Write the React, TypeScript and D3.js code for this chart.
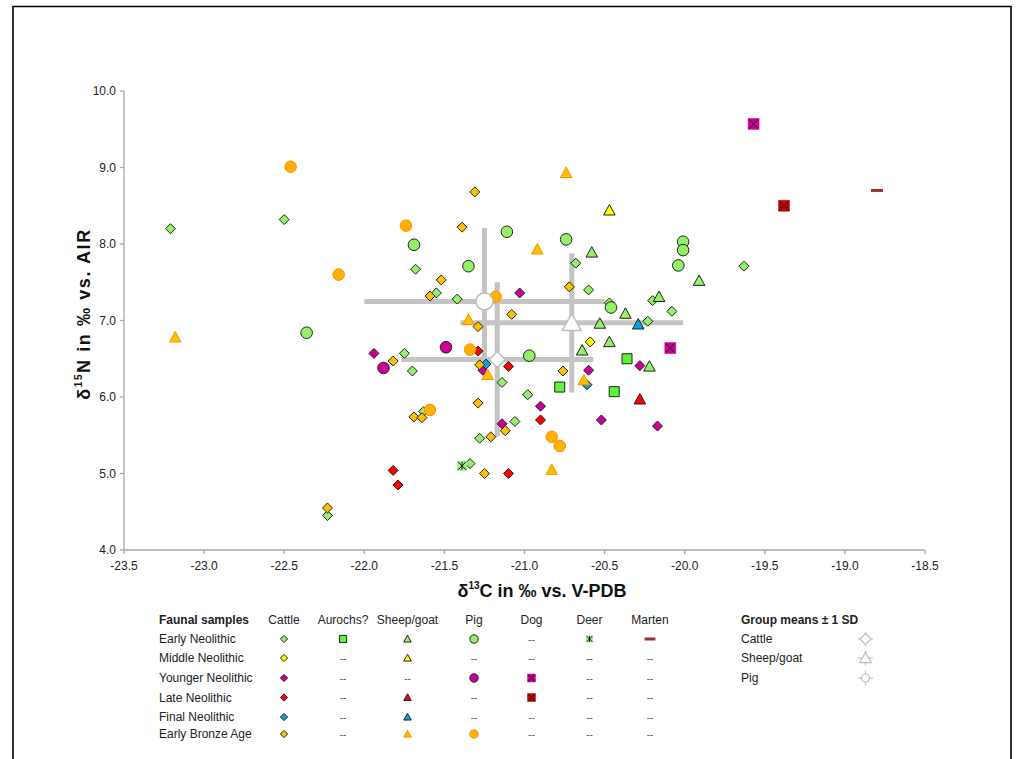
import React from "react";
import * as d3 from "d3";

type P = [number, number];

// ---- data (δ13C, δ15N) ----
const enCattle: P[] = [
  [-23.21, 8.2], [-22.5, 8.32], [-21.68, 7.67], [-21.55, 7.36], [-21.42, 7.28], [-20.68, 7.75],
  [-20.6, 7.4], [-20.47, 7.23], [-20.2, 7.26], [-20.08, 7.12], [-20.23, 6.99], [-19.63, 7.71],
  [-21.75, 6.57], [-21.7, 6.34], [-21.14, 6.19], [-20.98, 6.03], [-21.63, 5.81], [-21.06, 5.68],
  [-21.28, 5.46], [-21.34, 5.13], [-22.23, 4.45],
];
const enAurochs: P[] = [[-20.36, 6.5], [-20.78, 6.13], [-20.44, 6.07]];
const enSheep: P[] = [
  [-20.58, 7.89], [-20.37, 7.09], [-20.53, 6.96], [-20.16, 7.31], [-20.47, 6.72], [-20.64, 6.61],
  [-20.22, 6.4], [-19.91, 7.52],
];
const enPig: P[] = [
  [-21.69, 7.99], [-21.11, 8.16], [-20.74, 8.06], [-21.35, 7.71], [-20.46, 7.17], [-20.97, 6.54],
  [-22.36, 6.84], [-20.01, 8.03], [-20.01, 7.92], [-20.04, 7.72],
];
const enDeer: P[] = [[-21.39, 5.1]];
const enMarten: P[] = [[-18.8, 8.7]];
const mnCattle: P[] = [[-20.59, 6.72]];
const mnSheep: P[] = [[-20.47, 8.44]];
const ynCattle: P[] = [
  [-21.03, 7.36], [-20.28, 6.41], [-21.94, 6.57], [-21.26, 6.35], [-20.6, 6.35], [-20.9, 5.88],
  [-20.52, 5.7], [-20.17, 5.62], [-21.14, 5.65],
];
const ynPig: P[] = [[-21.49, 6.65], [-21.88, 6.38]];
const ynDog: P[] = [[-19.57, 9.57], [-20.09, 6.64]];
const lnCattle: P[] = [[-21.29, 6.6], [-21.1, 6.4], [-20.9, 5.7], [-21.1, 5.0], [-21.82, 5.04], [-21.79, 4.85]];
const lnSheep: P[] = [[-20.28, 5.97]];
const lnDog: P[] = [[-19.38, 8.5]];
const fnCattle: P[] = [[-21.24, 6.43], [-20.61, 6.16]];
const fnSheep: P[] = [[-20.29, 6.95]];
const ebaCattle: P[] = [
  [-21.31, 8.68], [-21.39, 8.22], [-21.52, 7.53], [-20.72, 7.44], [-21.59, 7.32], [-21.08, 7.08],
  [-21.29, 6.92], [-21.82, 6.47], [-21.28, 6.42], [-20.76, 6.34], [-21.29, 5.92], [-21.69, 5.74],
  [-21.64, 5.73], [-21.12, 5.56], [-21.21, 5.48], [-21.25, 5.0], [-22.23, 4.55],
];
const ebaSheep: P[] = [[-20.74, 8.93], [-20.92, 7.93], [-23.18, 6.78], [-21.35, 7.01], [-21.23, 6.29], [-20.63, 6.22], [-20.83, 5.05]];
const ebaPig: P[] = [[-22.46, 9.01], [-21.74, 8.24], [-22.16, 7.6], [-21.18, 7.31], [-21.34, 6.62], [-21.59, 5.83], [-20.83, 5.48], [-20.78, 5.36]];

// group means ± 1 SD
const meanNames = ["Cattle", "Sheep/goat", "Pig"];
const meanX = [-21.17, -20.705, -21.25];
const meanY = [6.49, 6.97, 7.25];
const sdX = [0.6, 0.695, 0.75];
const sdY = [1.01, 0.91, 0.96];

const xTicks = [-23.5, -23.0, -22.5, -22.0, -21.5, -21.0, -20.5, -20.0, -19.5, -19.0, -18.5];
const yTicks = [4.0, 5.0, 6.0, 7.0, 8.0, 9.0, 10.0];

const periods = ["Early Neolithic", "Middle Neolithic", "Younger Neolithic", "Late Neolithic", "Final Neolithic", "Early Bronze Age"];
const taxa = ["Cattle", "Aurochs?", "Sheep/goat", "Pig", "Dog", "Deer", "Marten"];

const FONT = "'Liberation Sans', Arial, sans-serif";

type Shape = "diamond" | "square" | "triangle" | "circle" | "xsquare" | "deer" | "dash";

function shapePath(shape: Shape, cx: number, cy: number, r: number): string {
  switch (shape) {
    case "diamond":
      return `M${cx},${cy - r}L${cx + r},${cy}L${cx},${cy + r}L${cx - r},${cy}Z`;
    case "square":
    case "xsquare":
    case "deer":
      return `M${cx - r},${cy - r}h${2 * r}v${2 * r}h${-2 * r}Z`;
    case "triangle":
      return `M${cx},${cy - r * 1.05}L${cx + r * 1.05},${cy + r * 0.85}L${cx - r * 1.05},${cy + r * 0.85}Z`;
    default:
      return "";
  }
}

function Marker(props: { shape: Shape; cx: number; cy: number; r: number; fill: string; stroke: string; sw?: number }) {
  const { shape, cx, cy, r, fill, stroke } = props;
  const sw = props.sw ?? 1;
  if (shape === "circle") return <circle cx={cx} cy={cy} r={r} fill={fill} stroke={stroke} strokeWidth={sw} />;
  if (shape === "dash")
    return <rect x={cx - r * 1.2} y={cy - 1.5} width={r * 2.4} height={3} fill={fill} />;
  if (shape === "xsquare" || shape === "deer") {
    const k = r * 0.8;
    return (
      <g>
        <path d={shapePath("square", cx, cy, r)} fill={fill} stroke={shape === "deer" ? "none" : fill} strokeWidth={0.5} />
        <path d={`M${cx - k},${cy - k}L${cx + k},${cy + k}M${cx - k},${cy + k}L${cx + k},${cy - k}`} stroke="#111" strokeWidth={1} />
        {shape === "deer" && <path d={`M${cx},${cy - k}V${cy + k}`} stroke="#111" strokeWidth={1} />}
      </g>
    );
  }
  return <path d={shapePath(shape, cx, cy, r)} fill={fill} stroke={stroke} strokeWidth={sw} />;
}

type Series = { data: P[]; shape: Shape; fill: string; stroke: string; r: number; row: number; col: number };

const C = {
  enGreen: "#92f06a",
  aurochs: "#5cf53a",
  deer: "#9af58a",
  yellow: "#ffff00",
  magenta: "#cc0099",
  red: "#ff0000",
  darkRed: "#c00000",
  blue: "#0aa0dc",
  orange: "#ffc000",
  orangeLight: "#ffb000",
  orangeEdge: "#ff9000",
  marten: "#993333",
};

const series: Series[] = [
  { data: enCattle, shape: "diamond", fill: C.enGreen, stroke: "#222", r: 5, row: 0, col: 0 },
  { data: enAurochs, shape: "square", fill: C.aurochs, stroke: "#222", r: 5, row: 0, col: 1 },
  { data: enSheep, shape: "triangle", fill: C.enGreen, stroke: "#222", r: 5.5, row: 0, col: 2 },
  { data: enPig, shape: "circle", fill: C.enGreen, stroke: "#222", r: 5.8, row: 0, col: 3 },
  { data: enDeer, shape: "deer", fill: C.deer, stroke: "#222", r: 5, row: 0, col: 5 },
  { data: enMarten, shape: "dash", fill: C.marten, stroke: "none", r: 5, row: 0, col: 6 },
  { data: mnCattle, shape: "diamond", fill: C.yellow, stroke: "#222", r: 5, row: 1, col: 0 },
  { data: mnSheep, shape: "triangle", fill: C.yellow, stroke: "#222", r: 5.5, row: 1, col: 2 },
  { data: ynCattle, shape: "diamond", fill: C.magenta, stroke: "#222", r: 5, row: 2, col: 0 },
  { data: ynPig, shape: "circle", fill: C.magenta, stroke: "#222", r: 5.8, row: 2, col: 3 },
  { data: ynDog, shape: "xsquare", fill: C.magenta, stroke: "#222", r: 5.5, row: 2, col: 4 },
  { data: lnCattle, shape: "diamond", fill: C.red, stroke: "#222", r: 5, row: 3, col: 0 },
  { data: lnSheep, shape: "triangle", fill: C.red, stroke: "#222", r: 5.5, row: 3, col: 2 },
  { data: lnDog, shape: "xsquare", fill: C.darkRed, stroke: "#222", r: 5.5, row: 3, col: 4 },
  { data: fnCattle, shape: "diamond", fill: C.blue, stroke: "#222", r: 5, row: 4, col: 0 },
  { data: fnSheep, shape: "triangle", fill: C.blue, stroke: "#222", r: 5.5, row: 4, col: 2 },
  { data: ebaCattle, shape: "diamond", fill: C.orange, stroke: "#222", r: 5, row: 5, col: 0 },
  { data: ebaSheep, shape: "triangle", fill: C.orange, stroke: C.orangeEdge, r: 5.5, row: 5, col: 2 },
  { data: ebaPig, shape: "circle", fill: C.orangeLight, stroke: C.orangeEdge, r: 5.8, row: 5, col: 3 },
];

const meanShapes: Shape[] = ["diamond", "triangle", "circle"];
const meanSizes = [8, 9, 8.5];

export default function App() {
  const x = d3.scaleLinear().domain([-23.5, -18.5]).range([124, 925]);
  const y = d3.scaleLinear().domain([4, 10]).range([550, 91]);
  const axisColor = "#a8a8a8";
  const barColor = "#c4c4c4";

  const legendColX = [284, 343, 407.5, 474, 531.5, 589.5, 650];
  const legendRowY = [639, 658, 678, 697.5, 717, 734];
  const legendHeaderY = 620;

  const legendMap = new Map<string, Series>();
  series.forEach((s) => legendMap.set(`${s.row}-${s.col}`, s));

  return (
    <div style={{ position: "absolute", left: 0, top: 0 }}>
      <svg width={1016} height={759} style={{ display: "block", background: "#fff" }} fontFamily={FONT}>
        <rect x={0} y={0} width={1016} height={759} fill="#fff" />
        {/* frame */}
        <path d="M13,770V6.5H1011V770" fill="none" stroke="#000" strokeWidth={1.6} />

        {/* axes */}
        <line x1={124} x2={124} y1={y(10)} y2={y(4)} stroke={axisColor} strokeWidth={1.3} />
        <line x1={124} x2={925} y1={y(4)} y2={y(4)} stroke={axisColor} strokeWidth={1.3} />
        {yTicks.map((t) => (
          <g key={`yt${t}`}>
            <line x1={120} x2={124} y1={y(t)} y2={y(t)} stroke={axisColor} strokeWidth={1.3} />
            <text x={116} y={y(t)} dy="0.35em" textAnchor="end" fontSize={12} fill="#222">
              {t.toFixed(1)}
            </text>
          </g>
        ))}
        {xTicks.map((t) => (
          <g key={`xt${t}`}>
            <line x1={x(t)} x2={x(t)} y1={550} y2={554} stroke={axisColor} strokeWidth={1.3} />
            <text x={x(t)} y={569.5} textAnchor="middle" fontSize={12} fill="#222">
              {t.toFixed(1)}
            </text>
          </g>
        ))}

        {/* axis titles */}
        <text x={542} y={597} textAnchor="middle" fontSize={18} fontWeight="bold" fill="#111">
          δ<tspan fontSize={10} dy={-8}>13</tspan>
          <tspan dy={8}>C in ‰ vs. V-PDB</tspan>
        </text>
        <text transform="translate(89.5,314) rotate(-90)" textAnchor="middle" fontSize={18} fontWeight="bold" fill="#111" letterSpacing={1.6}>
          δ<tspan fontSize={10} dy={-8}>15</tspan>
          <tspan dy={8}>N in ‰ vs. AIR</tspan>
        </text>

        {/* error bars */}
        {meanNames.map((n, i) => (
          <g key={`eb${n}`}>
            <line x1={x(meanX[i] - sdX[i])} x2={x(meanX[i] + sdX[i])} y1={y(meanY[i])} y2={y(meanY[i])} stroke={barColor} strokeWidth={5} />
            <line x1={x(meanX[i])} x2={x(meanX[i])} y1={y(meanY[i] - sdY[i])} y2={y(meanY[i] + sdY[i])} stroke={barColor} strokeWidth={5} />
          </g>
        ))}

        {/* data points */}
        {series.map((s, si) => (
          <g key={`s${si}`}>
            {s.data.map((d, i) => (
              <Marker key={i} shape={s.shape} cx={x(d[0])} cy={y(d[1])} r={s.r} fill={s.fill} stroke={s.stroke} />
            ))}
          </g>
        ))}

        {/* group mean markers */}
        {meanNames.map((n, i) => (
          <Marker key={`m${n}`} shape={meanShapes[i]} cx={x(meanX[i])} cy={y(meanY[i])} r={meanSizes[i]} fill="#fff" stroke="#bdbdbd" sw={1.5} />
        ))}

        {/* legend */}
        <g fontSize={12} fill="#222">
          <text x={159} y={legendHeaderY} dy="0.35em" fontWeight="bold">Faunal samples</text>
          {taxa.map((t, c) => (
            <text key={t} x={legendColX[c]} y={legendHeaderY} dy="0.35em" textAnchor="middle">{t}</text>
          ))}
          {periods.map((p, r) => (
            <g key={p}>
              <text x={159} y={legendRowY[r]} dy="0.35em">{p}</text>
              {taxa.map((t, c) => {
                const s = legendMap.get(`${r}-${c}`);
                if (!s)
                  return (
                    <text key={t} x={legendColX[c]} y={legendRowY[r]} dy="0.35em" textAnchor="middle" fill="#555" fontSize={10}>
                      --
                    </text>
                  );
                return (
                  <Marker
                    key={t}
                    shape={s.shape}
                    cx={legendColX[c]}
                    cy={legendRowY[r]}
                    r={s.shape === "circle" ? 4.2 : s.shape === "dash" ? 4.5 : s.shape === "xsquare" ? 4 : s.shape === "deer" ? 3.5 : 3.6}
                    fill={s.fill}
                    stroke={s.stroke}
                  />
                );
              })}
            </g>
          ))}
          <text x={741} y={legendHeaderY} dy="0.35em" fontWeight="bold">Group means ± 1 SD</text>
          {meanNames.map((n, i) => (
            <g key={`lm${n}`}>
              <text x={741} y={legendRowY[i]} dy="0.35em">{n}</text>
              <line x1={858} x2={873} y1={legendRowY[i]} y2={legendRowY[i]} stroke="#d0d0d0" strokeWidth={1.5} />
              <line x1={865.5} x2={865.5} y1={legendRowY[i] - 7.5} y2={legendRowY[i] + 7.5} stroke="#d0d0d0" strokeWidth={1.5} />
              <Marker shape={meanShapes[i]} cx={865.5} cy={legendRowY[i]} r={i === 2 ? 4 : 5.5} fill="#fff" stroke="#bdbdbd" sw={1.2} />
            </g>
          ))}
        </g>
      </svg>
    </div>
  );
}
